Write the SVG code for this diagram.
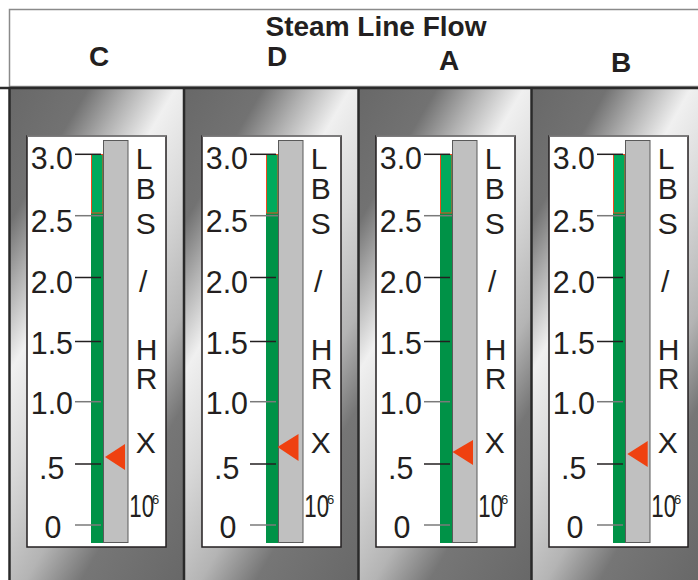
<svg xmlns="http://www.w3.org/2000/svg" width="698" height="580" viewBox="0 0 698 580">
<style>
.hdr{font-family:"Liberation Sans",Arial,sans-serif;font-weight:bold;fill:#231f20;text-anchor:middle}
.num{font-family:"Liberation Sans",Arial,sans-serif;font-size:32px;fill:#231f20;text-anchor:end}
.let{font-family:"Liberation Sans",Arial,sans-serif;font-size:30px;fill:#231f20}
.ten{font-family:"Liberation Sans",Arial,sans-serif;font-size:31px;fill:#231f20}
.sup{font-family:"Liberation Sans",Arial,sans-serif;font-size:13px;fill:#231f20}
.face{fill:#ffffff;stroke:#231f20;stroke-width:1.5}
.facetop{stroke:#8a8a8a;stroke-width:1.5}
.grn{fill:#009247}
.grnhi{fill:#00aa5c;stroke:#ef4a1c;stroke-width:1}
.bar{fill:#c0c0c0;stroke:#5a5a5a;stroke-width:1}
.tk{stroke:#231f20;stroke-width:1.5}
.tkg{stroke:#7a7a7a;stroke-width:1.5}
.ptr{fill:#ef4110}
.div{stroke:#2a2a2a;stroke-width:2.5}
</style>
<defs>
<linearGradient id="metal" gradientUnits="objectBoundingBox" x1="0" y1="0" x2="0.706" y2="1.176">
<stop offset="0" stop-color="#686868"/>
<stop offset="0.17" stop-color="#727272"/>
<stop offset="0.26" stop-color="#b0b0b0"/>
<stop offset="0.36" stop-color="#f0f0f0"/>
<stop offset="0.5" stop-color="#d8d8d8"/>
<stop offset="0.66" stop-color="#b4b4b4"/>
<stop offset="0.78" stop-color="#767676"/>
<stop offset="1" stop-color="#686868"/>
</linearGradient>
</defs>

<g id="header">
<rect x="9.5" y="9.5" width="690" height="77" fill="#ffffff" stroke="#8a8a8a" stroke-width="1.5"/>
<text class="hdr" x="376" y="36" style="font-size:28px">Steam Line Flow</text>
<text class="hdr" x="99" y="65.5" style="font-size:28px">C</text>
<text class="hdr" x="277" y="66" style="font-size:28px">D</text>
<text class="hdr" x="449" y="70" style="font-size:28px">A</text>
<text class="hdr" x="621" y="71.5" style="font-size:28px">B</text>
</g>

<g id="panels">
<rect x="10" y="88" width="173" height="492" fill="url(#metal)"/>
<rect x="185" y="88" width="173" height="492" fill="url(#metal)"/>
<rect x="359" y="88" width="172" height="492" fill="url(#metal)"/>
<rect x="532" y="88" width="166" height="492" fill="url(#metal)"/>
<line class="div" x1="0" y1="88" x2="698" y2="88"/>
<line class="div" x1="9.5" y1="87" x2="9.5" y2="580"/>
<line class="div" x1="184" y1="87" x2="184" y2="580"/>
<line class="div" x1="358.5" y1="87" x2="358.5" y2="580"/>
<line class="div" x1="531.5" y1="87" x2="531.5" y2="580"/>
</g>

<g id="gauge-C" transform="translate(0,0)">
<rect class="face" x="27" y="136" width="139" height="411"/>
<line class="facetop" x1="27" y1="136" x2="166" y2="136"/>
<rect class="grn" x="91" y="213" width="12" height="330"/>
<rect class="grnhi" x="91.5" y="154.5" width="11.5" height="58.5"/>
<rect class="bar" x="103.5" y="140.5" width="24.5" height="402"/>
<line class="tk" x1="75" y1="154.3" x2="101" y2="154.3"/>
<line class="tkg" x1="75" y1="215.7" x2="103" y2="215.7"/>
<line class="tk" x1="75" y1="277.5" x2="101" y2="277.5"/>
<line class="tk" x1="75" y1="341.5" x2="101" y2="341.5"/>
<line class="tkg" x1="75" y1="401.7" x2="101" y2="401.7"/>
<line class="tk" x1="75" y1="464" x2="101" y2="464"/>
<line class="tkg" x1="75" y1="525" x2="101" y2="525"/>
<text class="num" transform="matrix(0.95 0 0 1 73 169)">3.0</text>
<text class="num" transform="matrix(0.95 0 0 1 73 231.7)">2.5</text>
<text class="num" transform="matrix(0.95 0 0 1 73 293)">2.0</text>
<text class="num" transform="matrix(0.95 0 0 1 73 354)">1.5</text>
<text class="num" transform="matrix(0.95 0 0 1 73 413.5)">1.0</text>
<text class="num" transform="matrix(0.95 0 0 1 64.3 479.3)">.5</text>
<text class="num" transform="matrix(0.95 0 0 1 61.3 538)">0</text>
<text class="let" x="135.8" y="169">L</text>
<text class="let" x="135.8" y="199">B</text>
<text class="let" x="135.8" y="234">S</text>
<text class="let" x="139" y="292">/</text>
<text class="let" x="135.8" y="360">H</text>
<text class="let" x="135.8" y="389">R</text>
<text class="let" x="135.8" y="453">X</text>
<text class="ten" transform="matrix(0.72 0 0 1 129.3 517.3)">10</text>
<text class="sup" x="152" y="504">6</text>
<polygon class="ptr" points="105,457 125,444 125,470"/>
</g>

<g id="gauge-D" transform="translate(175,0)">
<rect class="face" x="27" y="136" width="139" height="411"/>
<line class="facetop" x1="27" y1="136" x2="166" y2="136"/>
<rect class="grn" x="91" y="213" width="12" height="330"/>
<rect class="grnhi" x="91.5" y="154.5" width="11.5" height="58.5"/>
<rect class="bar" x="103.5" y="140.5" width="24.5" height="402"/>
<line class="tk" x1="75" y1="154.3" x2="101" y2="154.3"/>
<line class="tkg" x1="75" y1="215.7" x2="103" y2="215.7"/>
<line class="tk" x1="75" y1="277.5" x2="101" y2="277.5"/>
<line class="tk" x1="75" y1="341.5" x2="101" y2="341.5"/>
<line class="tkg" x1="75" y1="401.7" x2="101" y2="401.7"/>
<line class="tk" x1="75" y1="464" x2="101" y2="464"/>
<line class="tkg" x1="75" y1="525" x2="101" y2="525"/>
<text class="num" transform="matrix(0.95 0 0 1 73 169)">3.0</text>
<text class="num" transform="matrix(0.95 0 0 1 73 231.7)">2.5</text>
<text class="num" transform="matrix(0.95 0 0 1 73 293)">2.0</text>
<text class="num" transform="matrix(0.95 0 0 1 73 354)">1.5</text>
<text class="num" transform="matrix(0.95 0 0 1 73 413.5)">1.0</text>
<text class="num" transform="matrix(0.95 0 0 1 64.3 479.3)">.5</text>
<text class="num" transform="matrix(0.95 0 0 1 61.3 538)">0</text>
<text class="let" x="135.8" y="169">L</text>
<text class="let" x="135.8" y="199">B</text>
<text class="let" x="135.8" y="234">S</text>
<text class="let" x="139" y="292">/</text>
<text class="let" x="135.8" y="360">H</text>
<text class="let" x="135.8" y="389">R</text>
<text class="let" x="135.8" y="453">X</text>
<text class="ten" transform="matrix(0.72 0 0 1 129.3 517.3)">10</text>
<text class="sup" x="152" y="504">6</text>
<polygon class="ptr" points="102.5,447 123.5,434 123.5,461"/>
</g>

<g id="gauge-A" transform="translate(349,0)">
<rect class="face" x="27" y="136" width="139" height="411"/>
<line class="facetop" x1="27" y1="136" x2="166" y2="136"/>
<rect class="grn" x="91" y="213" width="12" height="330"/>
<rect class="grnhi" x="91.5" y="154.5" width="11.5" height="58.5"/>
<rect class="bar" x="103.5" y="140.5" width="24.5" height="402"/>
<line class="tk" x1="75" y1="154.3" x2="101" y2="154.3"/>
<line class="tkg" x1="75" y1="215.7" x2="103" y2="215.7"/>
<line class="tk" x1="75" y1="277.5" x2="101" y2="277.5"/>
<line class="tk" x1="75" y1="341.5" x2="101" y2="341.5"/>
<line class="tkg" x1="75" y1="401.7" x2="101" y2="401.7"/>
<line class="tk" x1="75" y1="464" x2="101" y2="464"/>
<line class="tkg" x1="75" y1="525" x2="101" y2="525"/>
<text class="num" transform="matrix(0.95 0 0 1 73 169)">3.0</text>
<text class="num" transform="matrix(0.95 0 0 1 73 231.7)">2.5</text>
<text class="num" transform="matrix(0.95 0 0 1 73 293)">2.0</text>
<text class="num" transform="matrix(0.95 0 0 1 73 354)">1.5</text>
<text class="num" transform="matrix(0.95 0 0 1 73 413.5)">1.0</text>
<text class="num" transform="matrix(0.95 0 0 1 64.3 479.3)">.5</text>
<text class="num" transform="matrix(0.95 0 0 1 61.3 538)">0</text>
<text class="let" x="135.8" y="169">L</text>
<text class="let" x="135.8" y="199">B</text>
<text class="let" x="135.8" y="234">S</text>
<text class="let" x="139" y="292">/</text>
<text class="let" x="135.8" y="360">H</text>
<text class="let" x="135.8" y="389">R</text>
<text class="let" x="135.8" y="453">X</text>
<text class="ten" transform="matrix(0.72 0 0 1 129.3 517.3)">10</text>
<text class="sup" x="152" y="504">6</text>
<polygon class="ptr" points="103.5,452 124,440 124,465"/>
</g>

<g id="gauge-B" transform="translate(522,0)">
<rect class="face" x="27" y="136" width="139" height="411"/>
<line class="facetop" x1="27" y1="136" x2="166" y2="136"/>
<rect class="grn" x="91" y="213" width="12" height="330"/>
<rect class="grnhi" x="91.5" y="154.5" width="11.5" height="58.5"/>
<rect class="bar" x="103.5" y="140.5" width="24.5" height="402"/>
<line class="tk" x1="75" y1="154.3" x2="101" y2="154.3"/>
<line class="tkg" x1="75" y1="215.7" x2="103" y2="215.7"/>
<line class="tk" x1="75" y1="277.5" x2="101" y2="277.5"/>
<line class="tk" x1="75" y1="341.5" x2="101" y2="341.5"/>
<line class="tkg" x1="75" y1="401.7" x2="101" y2="401.7"/>
<line class="tk" x1="75" y1="464" x2="101" y2="464"/>
<line class="tkg" x1="75" y1="525" x2="101" y2="525"/>
<text class="num" transform="matrix(0.95 0 0 1 73 169)">3.0</text>
<text class="num" transform="matrix(0.95 0 0 1 73 231.7)">2.5</text>
<text class="num" transform="matrix(0.95 0 0 1 73 293)">2.0</text>
<text class="num" transform="matrix(0.95 0 0 1 73 354)">1.5</text>
<text class="num" transform="matrix(0.95 0 0 1 73 413.5)">1.0</text>
<text class="num" transform="matrix(0.95 0 0 1 64.3 479.3)">.5</text>
<text class="num" transform="matrix(0.95 0 0 1 61.3 538)">0</text>
<text class="let" x="135.8" y="169">L</text>
<text class="let" x="135.8" y="199">B</text>
<text class="let" x="135.8" y="234">S</text>
<text class="let" x="139" y="292">/</text>
<text class="let" x="135.8" y="360">H</text>
<text class="let" x="135.8" y="389">R</text>
<text class="let" x="135.8" y="453">X</text>
<text class="ten" transform="matrix(0.72 0 0 1 129.3 517.3)">10</text>
<text class="sup" x="152" y="504">6</text>
<polygon class="ptr" points="105.3,454 125.7,441 125.7,467"/>
</g>
</svg>
